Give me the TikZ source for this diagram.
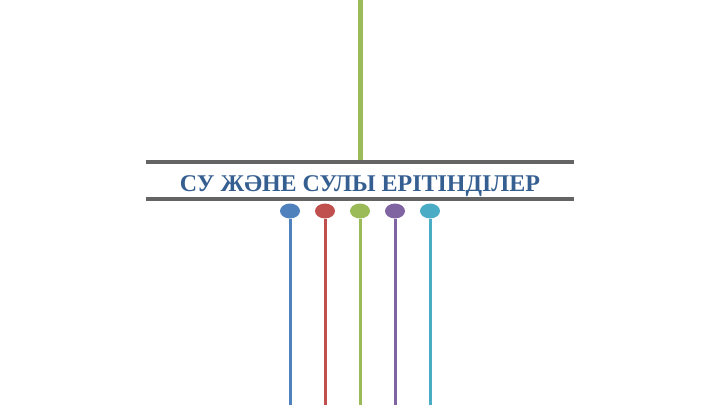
\documentclass[tikz,border=0pt]{standalone}
\usepackage{fontspec}
\setmainfont{Liberation Serif}
\usepackage{tikz}
\usetikzlibrary{shapes.geometric,positioning}
\definecolor{pinblue}{HTML}{4F81BD}
\definecolor{pinred}{HTML}{C0504D}
\definecolor{pingreen}{HTML}{9BBB59}
\definecolor{pinpurple}{HTML}{8064A2}
\definecolor{pinaqua}{HTML}{4BACC6}
\definecolor{bargray}{HTML}{646464}
\definecolor{titleblue}{HTML}{365F91}
\tikzstyle{titlebox} = [rectangle, minimum width=427pt, minimum height=37pt, inner sep=0pt, text height=21pt, text depth=0pt, text=titleblue, font=\fontsize{24}{28}\selectfont\bfseries]
\tikzstyle{bar} = [draw=bargray, line width=3.5pt]
\tikzstyle{pinhead} = [ellipse, minimum width=20pt, minimum height=15pt, inner sep=0pt]
\tikzstyle{stem} = [line width=3pt]

\begin{document}
\begin{tikzpicture}[x=1pt, y=-1pt]
\useasboundingbox (0,0) rectangle (720,405);
\coordinate (top) at (360,0);
\node [titlebox] (title) at (360,180.5) {СУ ЖӘНЕ СУЛЫ ЕРІТІНДІЛЕР};
\draw [line width=5pt, pingreen] (top) -- (title.north);
\draw [bar] (title.north west) -- (title.north east);
\draw [bar] (title.south west) -- (title.south east);
\foreach \n/\x/\c in {a/290/pinblue, b/325/pinred, c/360/pingreen, d/395/pinpurple, e/430/pinaqua}{
    \node [pinhead, fill=\c] (head\n) at (\x,211) {};
    \coordinate (foot\n) at (\x,405);
    \draw [stem, \c] (head\n.south) -- (foot\n);
}
\end{tikzpicture}
\end{document}
